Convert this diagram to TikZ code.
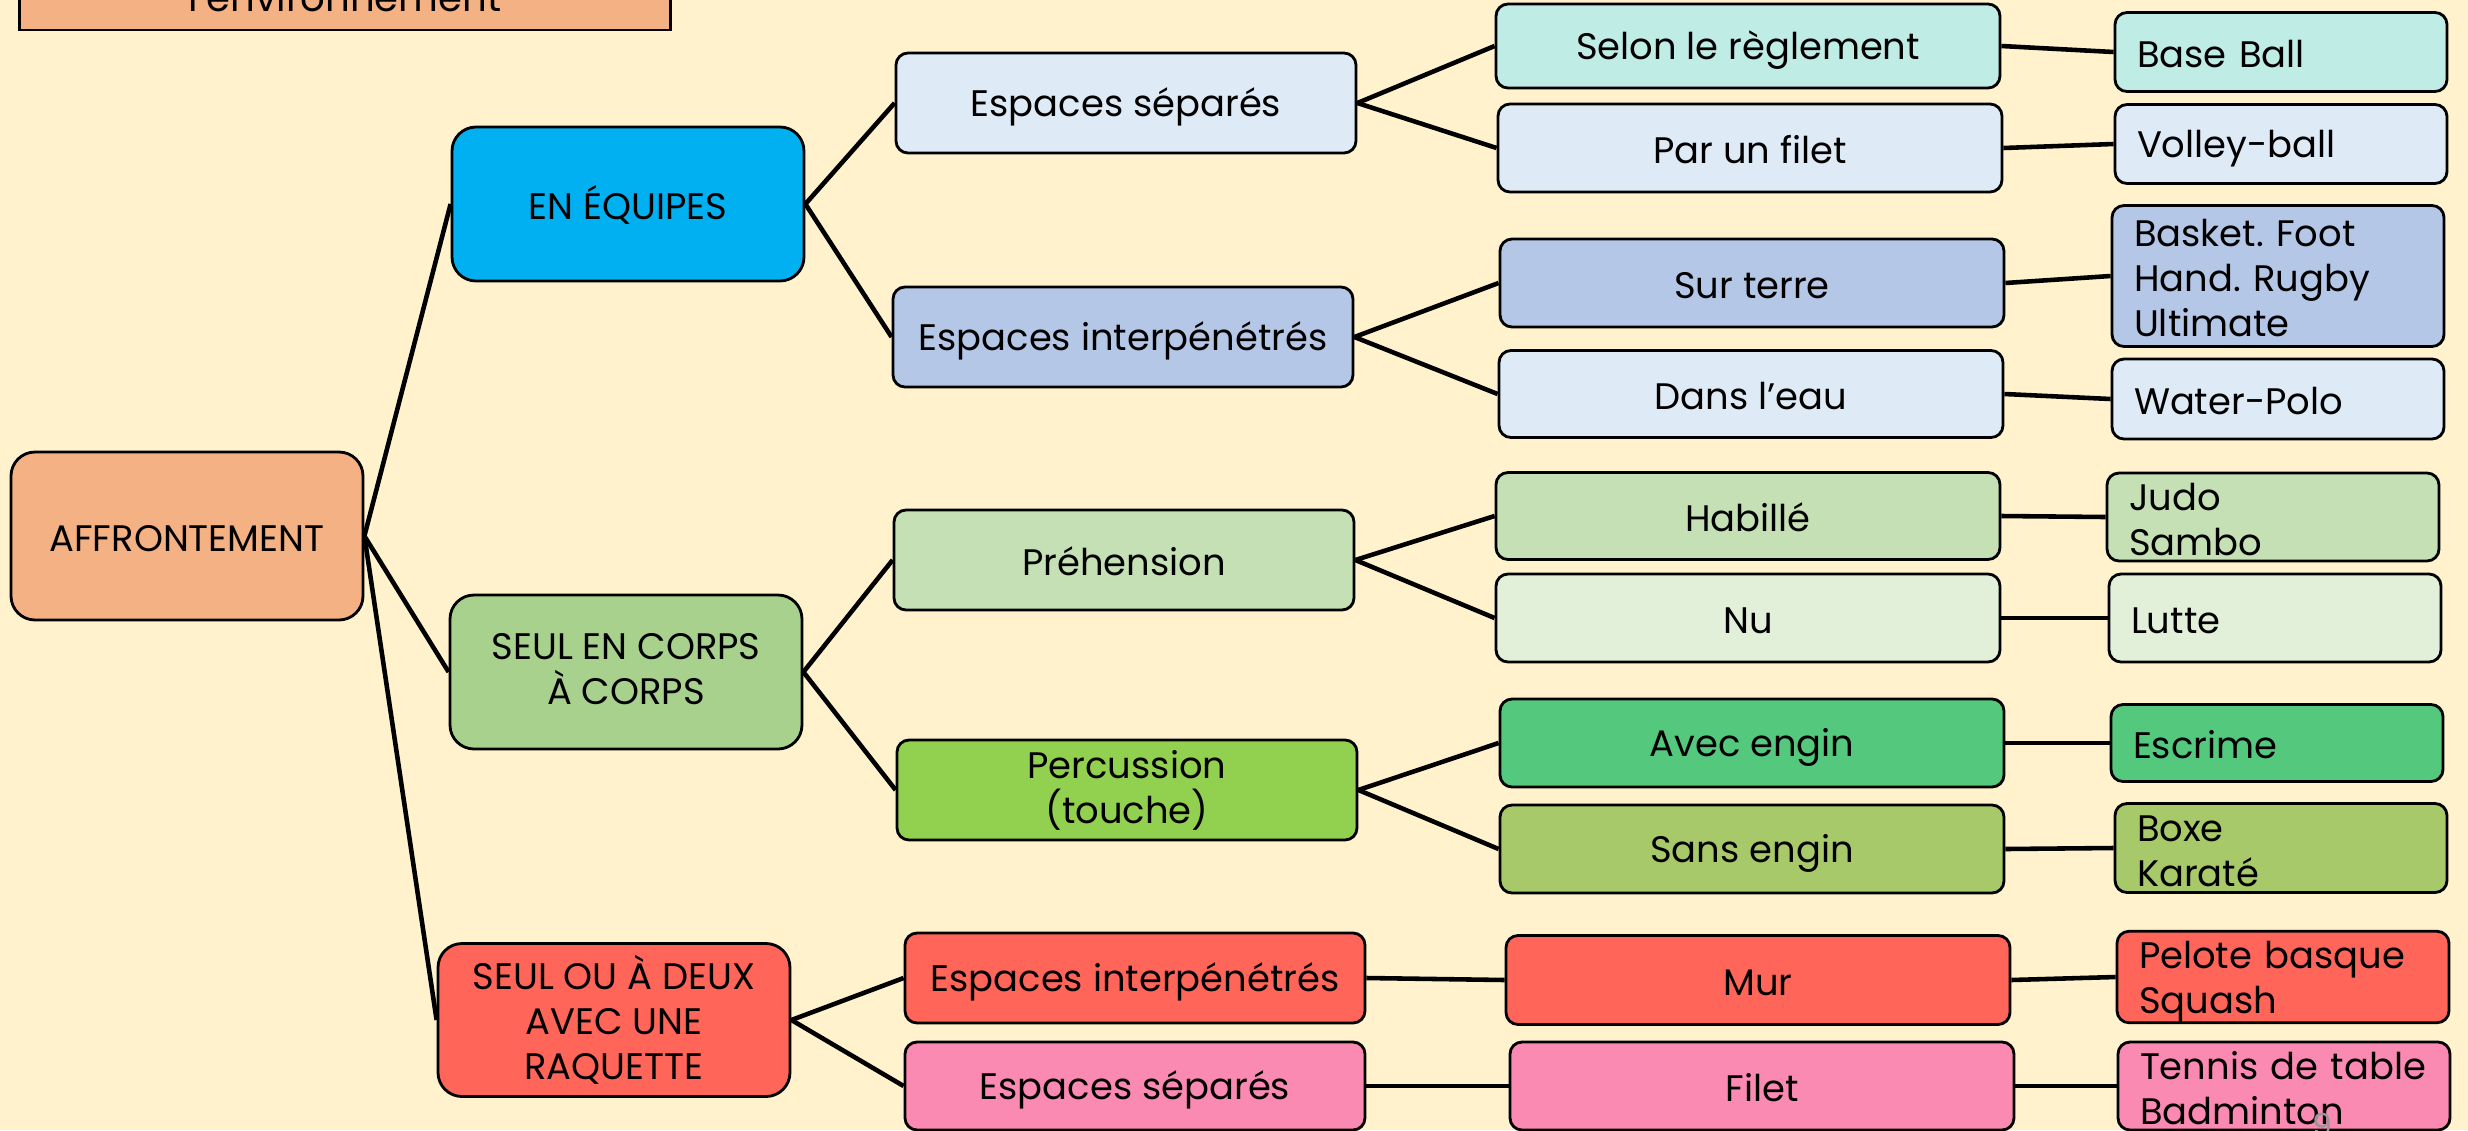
\documentclass[tikz,border=0pt]{standalone}
\usepackage{fontspec}
\setmainfont{Poppins}
\frenchspacing
\definecolor{paperCream}{RGB}{255,242,204}
\definecolor{peachOrange}{RGB}{244,177,131}
\definecolor{skyCyan}{RGB}{0,176,240}
\definecolor{sageGreen}{RGB}{169,209,142}
\definecolor{coralRed}{RGB}{255,101,89}
\definecolor{paleBlue}{RGB}{222,235,247}
\definecolor{midBlue}{RGB}{180,199,231}
\definecolor{mintTeal}{RGB}{192,236,230}
\definecolor{softGreen}{RGB}{197,224,180}
\definecolor{paleGreen}{RGB}{226,240,217}
\definecolor{limeGreen}{RGB}{146,208,80}
\definecolor{jadeGreen}{RGB}{84,201,126}
\definecolor{oliveGreen}{RGB}{168,201,106}
\definecolor{rosePink}{RGB}{251,138,178}
\definecolor{numGray}{RGB}{150,150,150}
\newcommand{\TopStrut}{\rule{0pt}{10.5pt}}
\newcommand{\BotStrut}{\rule[-1.5pt]{0pt}{1.5pt}}
\tikzset{
  box/.style={rounded corners=1.2mm,draw=black,line width=0.8pt,align=center,inner sep=0pt,
              font=\fontsize{10.5}{12.8}\selectfont,
              execute at begin node=\TopStrut,execute at end node=\BotStrut},
  cat/.style={box,rounded corners=2.4mm,minimum width=3.52cm,minimum height=1.54cm},
  space/.style={box,minimum width=4.6cm,minimum height=1cm},
  mode/.style={box,minimum width=5.04cm,minimum height=0.87cm},
  sport/.style={box,align=left,text width=2.88cm,inner xsep=2.2mm,minimum height=0.88cm},
  link/.style={line width=1.3pt},
}
\begin{document}
\begin{tikzpicture}[x=0.1mm,y=-0.1mm]
\useasboundingbox (0,0) rectangle (2468,1130);
\clip (0,0) rectangle (2468,1130);
\fill[paperCream] (0,0) rectangle (2468,1130);

\node[draw=black,line width=0.6pt,fill=peachOrange,minimum width=6.51cm,inner ysep=1.8mm,anchor=south,
      font=\fontsize{11}{13}\selectfont] (theme) at (345,31) {l’environnement};

\node[cat,fill=peachOrange,minimum height=1.68cm] (root) at (187,536) {AFFRONTEMENT};
\node[cat,fill=skyCyan] (equipes) at (628,204) {EN ÉQUIPES};
\node[cat,fill=sageGreen] (corps) at (626,672) {SEUL EN CORPS\\À CORPS};
\node[cat,fill=coralRed,minimum height=1.53cm] (raquette) at (614,1020) {SEUL OU À DEUX\\AVEC UNE\\RAQUETTE};

\node[space,fill=paleBlue] (sepA) at (1126,103) {Espaces séparés};
\node[space,fill=midBlue] (interA) at (1123,337) {Espaces interpénétrés};
\node[space,fill=softGreen] (prehension) at (1124,560) {Préhension};
\node[space,fill=limeGreen] (percussion) at (1127,790) {Percussion\\(touche)};
\node[space,fill=coralRed,minimum height=0.9cm] (interR) at (1135,978) {Espaces interpénétrés};
\node[space,fill=rosePink,minimum height=0.88cm] (sepR) at (1135,1086) {Espaces séparés};

\node[mode,fill=mintTeal,minimum height=0.84cm] (reglement) at (1748,46) {Selon le règlement};
\node[mode,fill=paleBlue,minimum height=0.88cm] (filetA) at (1750,148) {Par un filet};
\node[mode,fill=midBlue,minimum height=0.88cm] (terre) at (1752,283) {Sur terre};
\node[mode,fill=paleBlue] (eau) at (1751,394) {Dans l’eau};
\node[mode,fill=softGreen] (habille) at (1748,516) {Habillé};
\node[mode,fill=paleGreen,minimum height=0.88cm] (nu) at (1748,618) {Nu};
\node[mode,fill=jadeGreen,minimum height=0.88cm] (avec) at (1752,743) {Avec engin};
\node[mode,fill=oliveGreen,minimum height=0.88cm] (sans) at (1752,849) {Sans engin};
\node[mode,fill=coralRed,minimum height=0.89cm] (mur) at (1758,980) {Mur};
\node[mode,fill=rosePink,minimum height=0.88cm] (filetR) at (1762,1086) {Filet};

\node[sport,fill=mintTeal,minimum height=0.79cm] (baseball) at (2281,52) {Base Ball};
\node[sport,fill=paleBlue,minimum height=0.79cm] (volley) at (2281,144) {Volley-ball};
\node[sport,fill=midBlue,minimum height=1.41cm] (basket) at (2278,276) {Basket. Foot\\Hand. Rugby\\Ultimate};
\node[sport,fill=paleBlue,minimum height=0.8cm] (waterpolo) at (2278,399) {Water-Polo};
\node[sport,fill=softGreen] (judo) at (2273,517) {Judo\\Sambo};
\node[sport,fill=paleGreen] (lutte) at (2275,618) {Lutte};
\node[sport,fill=jadeGreen,minimum height=0.77cm] (escrime) at (2277,743) {Escrime};
\node[sport,fill=oliveGreen,minimum height=0.89cm] (boxe) at (2281,848) {Boxe\\Karaté};
\node[sport,fill=coralRed,minimum height=0.89cm] (pelote) at (2283,977) {Pelote basque\\Squash};
\node[sport,fill=rosePink] (tennis) at (2284,1086) {Tennis de table\\Badminton};

\node[text=numGray,inner sep=0pt,font=\fontsize{9}{9}\selectfont] (slidenum) at (2322,1125) {9};

\foreach \a/\b in {root/equipes,root/corps,root/raquette,
                   equipes/sepA,equipes/interA,corps/prehension,corps/percussion,raquette/interR,raquette/sepR,
                   sepA/reglement,sepA/filetA,interA/terre,interA/eau,prehension/habille,prehension/nu,
                   percussion/avec,percussion/sans,interR/mur,sepR/filetR,
                   reglement/baseball,filetA/volley,terre/basket,eau/waterpolo,habille/judo,nu/lutte,
                   avec/escrime,sans/boxe,mur/pelote,filetR/tennis}
  \draw[link] (\a.east) -- (\b.west);
\end{tikzpicture}
\end{document}
